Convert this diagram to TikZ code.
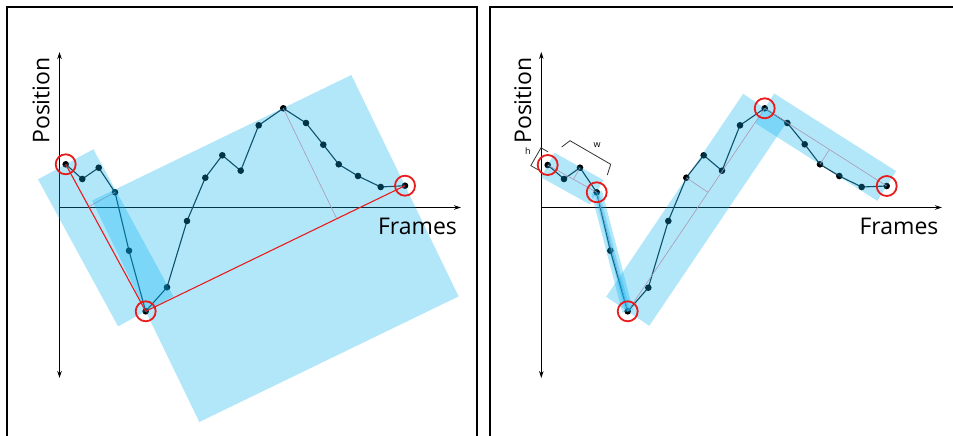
\documentclass[tikz,border=0pt]{standalone}
\usepackage{fontspec}
\setmainfont{Open Sans}
\usetikzlibrary{arrows.meta,calc}
\definecolor{rectblue}{RGB}{0,176,240}
\definecolor{redc}{RGB}{232,28,28}
\definecolor{pinkc}{RGB}{245,140,150}
\definecolor{datal}{RGB}{20,40,50}
\newcommand\bandrect[4][]{\fill[band,#1] ($(#2)!#4!90:(#3)$) -- ($(#3)!#4!-90:(#2)$) -- ($(#3)!#4!90:(#2)$) -- ($(#2)!#4!-90:(#3)$) -- cycle;}
\begin{document}
\begin{tikzpicture}[x=1pt,y=-1pt,
  panelframe/.style={line width=2.2pt,black},
  axisline/.style={line width=0.9pt,black},
  arr/.style={-{Stealth[length=7pt,width=4.5pt]}},
  arrboth/.style={{Stealth[length=7pt,width=4.5pt]}-{Stealth[length=7pt,width=4.5pt]}},
  dataline/.style={line width=1.1pt,datal},
  dot/.style={fill=black},
  band/.style={fill=rectblue,fill opacity=0.3},
  chord/.style={pinkc,line width=0.6pt},
  redline/.style={redc,line width=1.1pt},
  ring/.style={draw=redc,line width=1.8pt,circle,minimum size=20pt,inner sep=0pt},
  lab/.style={font=\fontsize{23}{27}\selectfont,inner sep=0pt},
  smalllab/.style={font=\fontsize{9}{10}\selectfont,inner sep=0pt},
  bracket/.style={line width=0.8pt,black!80}]
\useasboundingbox (0,0) rectangle (953,436);

% panel frames
\draw[panelframe] (7.3,445) -- (7.3,7) -- (477,7) -- (477,445);
\draw[panelframe] (490,445) -- (490,7) -- (960,7);

% data coordinates
\foreach \x/\y [count=\i] in {65.7/164.3,82.3/179,98.7/167.7,115/192.3,129/250.7,145.7/311.3,167/287.3,187/221,205.3/177.7,222.3/155.3,240.7/170.7,258.7/125.3,283.3/108.3,306/123,323.3/144.7,338.7/164.3,358/176,380.7/187,405/185.7}
  {\coordinate (L\i) at (\x,\y);}
\foreach \x/\y [count=\i] in {547.7/165,564/179,580/167.7,596.7/192.3,610.3/250.7,627.7/311.3,648.3/287.7,668.3/221,686.3/177.7,703.7/155.3,722/170.7,740/125.3,764.7/108.3,787.3/123,804.7/144.3,820/164.3,839.3/176,861.7/187,886.7/186}
  {\coordinate (R\i) at (\x,\y);}

% axes
\coordinate (LyT) at (59.5,52);  \coordinate (LyB) at (59.5,378);
\coordinate (Lx0) at (59.5,207.5); \coordinate (LxE) at (461,207.5);
\coordinate (RyT) at (541.3,52); \coordinate (RyB) at (541.3,378);
\coordinate (Rx0) at (541.3,207.5); \coordinate (RxE) at (942,207.5);
\draw[axisline,arrboth] (LyB) -- (LyT);
\draw[axisline,arr] (Lx0) -- (LxE);
\draw[axisline,arrboth] (RyB) -- (RyT);
\draw[axisline,arr] (Rx0) -- (RxE);

% data polylines and dots
\draw[dataline] (L1) \foreach \i in {2,...,19}{ -- (L\i)};
\draw[dataline] (R1) \foreach \i in {2,...,19}{ -- (R\i)};
\foreach \i in {1,...,19}{\fill[dot] (L\i) circle (3.3pt); \fill[dot] (R\i) circle (3.3pt);}

% pink guide lines
\draw[chord] (L4) -- ($(L1)!(L4)!(L6)$);
\draw[chord] (L13) -- ($(L6)!(L13)!(L19)$);
\draw[chord] (R1) -- (R4);
\draw[chord] (R3) -- ($(R1)!(R3)!(R4)$);
\draw[chord] (R4) -- (R6);
\draw[chord] (R6) -- (R13);
\draw[chord] (R9) -- ($(R6)!(R9)!(R13)$);
\draw[chord] (R13) -- (R19);
\draw[chord] (R16) -- ($(R13)!(R16)!(R19)$);

% bounding bands
\bandrect{L1}{L6}{31.5pt}
\bandrect{L6}{L19}{123pt}
\bandrect{R1}{R4}{14pt}
\bandrect{R4}{R6}{5.5pt}
\bandrect{R4}{R6}{2.5pt}
\bandrect{R6}{R13}{26pt}
\bandrect{R13}{R19}{17.6pt}

% red chords (left)
\draw[redline] (L1) -- (L6) -- (L19);

% red rings
\node[ring] (cL1) at (L1) {};
\node[ring] (cL6) at (L6) {};
\node[ring] (cL19) at (L19) {};
\node[ring] (cR1) at (R1) {};
\node[ring] (cR4) at (R4) {};
\node[ring] (cR6) at (R6) {};
\node[ring] (cR13) at (R13) {};
\node[ring] (cR19) at (R19) {};

% labels
\node[lab,rotate=90,anchor=base] (posL) at (49.3,100.5) {Position};
\node[lab,anchor=base] (frL) at (417.5,234) {Frames};
\node[lab,rotate=90,anchor=base] (posR) at (531,100.5) {Position};
\node[lab,anchor=base] (frR) at (899,234) {Frames};

% h and w brackets
\draw[bracket] (548,151.9) -- (541,147.8) -- (530.8,165.6) -- (537.8,169.6);
\draw[bracket] (561.7,147) -- (570,140.7) -- (610.7,164.3) -- (607.3,175);
\node[smalllab] (hlab) at (528,151.5) {h};
\node[smalllab] (wlab) at (597,145.5) {w};
\end{tikzpicture}
\end{document}
